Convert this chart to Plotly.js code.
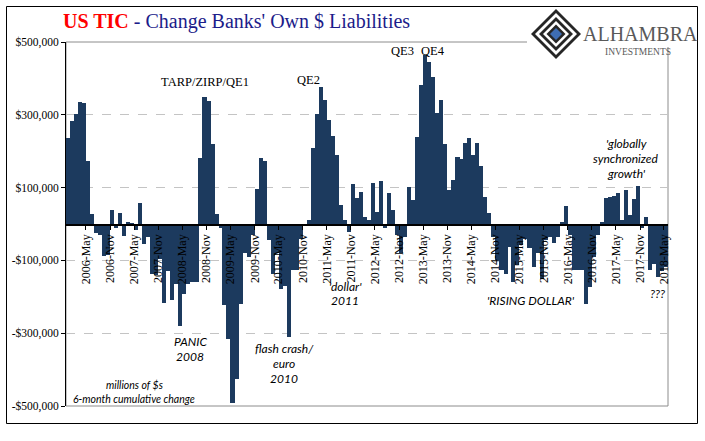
<!DOCTYPE html>
<html><head><meta charset="utf-8">
<script src="https://cdn.plot.ly/plotly-3.0.1.min.js"></script>
<style>html,body{margin:0;padding:0;background:#fff}#chart{width:705px;height:441px}</style>
</head><body><div id="chart"></div>
<script>
const months = [
'2005-12',
'2006-01','2006-02','2006-03','2006-04','2006-05','2006-06','2006-07','2006-08','2006-09','2006-10','2006-11','2006-12',
'2007-01','2007-02','2007-03','2007-04','2007-05','2007-06','2007-07','2007-08','2007-09','2007-10','2007-11','2007-12',
'2008-01','2008-02','2008-03','2008-04','2008-05','2008-06','2008-07','2008-08','2008-09','2008-10','2008-11','2008-12',
'2009-01','2009-02','2009-03','2009-04','2009-05','2009-06','2009-07','2009-08','2009-09','2009-10','2009-11','2009-12',
'2010-01','2010-02','2010-03','2010-04','2010-05','2010-06','2010-07','2010-08','2010-09','2010-10','2010-11','2010-12',
'2011-01','2011-02','2011-03','2011-04','2011-05','2011-06','2011-07','2011-08','2011-09','2011-10','2011-11','2011-12',
'2012-01','2012-02','2012-03','2012-04','2012-05','2012-06','2012-07','2012-08','2012-09','2012-10','2012-11','2012-12',
'2013-01','2013-02','2013-03','2013-04','2013-05','2013-06','2013-07','2013-08','2013-09','2013-10','2013-11','2013-12',
'2014-01','2014-02','2014-03','2014-04','2014-05','2014-06','2014-07','2014-08','2014-09','2014-10','2014-11','2014-12',
'2015-01','2015-02','2015-03','2015-04','2015-05','2015-06','2015-07','2015-08','2015-09','2015-10','2015-11','2015-12',
'2016-01','2016-02','2016-03','2016-04','2016-05','2016-06','2016-07','2016-08','2016-09','2016-10','2016-11','2016-12',
'2017-01','2017-02','2017-03','2017-04','2017-05','2017-06','2017-07','2017-08','2017-09','2017-10','2017-11','2017-12',
'2018-01','2018-02','2018-03','2018-04','2018-05'
];
// 6-month cumulative change, millions of $
const changes = [
236000,
284000,301000,335000,333000,172000,27000,-24000,-30000,-88000,-85000,38000,-12000,
30000,-33000,6000,3000,-17000,59000,-55000,-35000,-136000,-140000,-95000,-217000,
-130000,-210000,-164000,-279000,-191000,-165000,-160000,-160000,181000,350000,338000,220000,
27000,-12000,-223000,-316000,-493000,-426000,-219000,-81000,-90000,-30000,96000,181000,
172000,-44000,-136000,-80000,-178000,-170000,-311000,-127000,-127000,-40000,-5000,11000,
209000,301000,376000,342000,287000,241000,190000,52000,11000,-21000,110000,71000,
89000,20000,11000,112000,34000,117000,-12000,85000,39000,-30000,-81000,-35000,
101000,66000,239000,382000,464000,445000,405000,305000,340000,220000,94000,121000,
184000,179000,223000,236000,190000,223000,158000,75000,31000,-35000,-100000,-127000,
-136000,-63000,-160000,-113000,-58000,-40000,-67000,-118000,-81000,-150000,-44000,-35000,
-53000,-35000,6000,50000,-30000,-127000,-127000,-127000,-219000,-173000,-90000,-30000,
5000,71000,75000,77000,86000,11000,94000,25000,68000,105000,-10000,18000,
-127000,-110000,-146000,-130000,-118000
];
const tickDates = ['2006-05-01','2006-11-01','2007-05-01','2007-11-01','2008-05-01','2008-11-01',
'2009-05-01','2009-11-01','2010-05-01','2010-11-01','2011-05-01','2011-11-01','2012-05-01','2012-11-01',
'2013-05-01','2013-11-01','2014-05-01','2014-11-01','2015-05-01','2015-11-01','2016-05-01','2016-11-01',
'2017-05-01','2017-11-01','2018-05-01'];
const tickLabels = ['2006-May','2006-Nov','2007-May','2007-Nov','2008-May','2008-Nov',
'2009-May','2009-Nov','2010-May','2010-Nov','2011-May','2011-Nov','2012-May','2012-Nov',
'2013-May','2013-Nov','2014-May','2014-Nov','2015-May','2015-Nov','2016-May','2016-Nov',
'2017-May','2017-Nov','2018-May'];
const yTickValues = [500000,300000,100000,-100000,-300000,-500000];
const yTickLabels = ['$500,000','$300,000','$100,000','-$100,000','-$300,000','-$500,000'];

// layout helpers (pixel -> paper)
const L=66,R=668,T=42,B=406;
const px = x => (x-L)/(R-L);
const py = y => (B-y)/(B-T);
function diamond(cx, cy, r){
  return 'M'+px(cx)+','+py(cy-r)+' L'+px(cx+r)+','+py(cy)+' L'+px(cx)+','+py(cy+r)+' L'+px(cx-r)+','+py(cy)+' Z';
}
const serif = 'Liberation Serif, Times New Roman, serif';
const ital = 'Lato, Open Sans, sans-serif';

const trace = {
  type:'bar', x: months, y: changes,
  xperiod:'M1', xperiodalignment:'middle',
  width: 31*86400000,
  marker:{color:'#1c3a5e', line:{width:0}},
  hoverinfo:'skip'
};

function note(text, x, y, size, fam, color){
  return {text:text, x:px(x), y:py(y), xref:'paper', yref:'paper', showarrow:false,
    xanchor:'center', yanchor:'middle', font:{family:fam, size:size, color:color||'#000'}};
}

const annotations = [
  note('TARP/ZIRP/QE1', 205, 82, 12.5, serif),
  note('QE2', 308, 80, 12.5, serif),
  note('QE3', 402, 51, 12.5, serif),
  note('QE4', 433, 51, 12.5, serif),
  note('<i>PANIC</i>', 190, 341, 12, ital),
  note('<i>2008</i>', 190, 356, 12, ital),
  note('<i>flash crash/</i>', 284, 348, 12, ital),
  note('<i>euro</i>', 284, 363, 12, ital),
  note('<i>2010</i>', 284, 378, 12, ital),
  note("<i>'dollar'</i>", 345, 286, 12, ital),
  note('<i>2011</i>', 345, 300, 12, ital),
  note("<i>'RISING DOLLAR'</i>", 531, 300, 12, ital),
  note("<i>'globally</i>", 626, 143, 12, ital),
  note('<i>synchronized</i>', 626, 158, 12, ital),
  note("<i>growth'</i>", 626, 173, 12, ital),
  note('<i>???</i>', 657, 293, 12, ital),
  note('<i>millions of $s</i>', 134, 385, 10.5, ital),
  note('<i>6-month cumulative change</i>', 134, 399, 10.5, ital),
  note('ALHAMBRA', 640, 34, 20, serif, '#595959'),
  note('INVESTMENTS', 638, 52, 9.5, serif, '#595959')
];

const shapes = [
  {type:'rect', xref:'paper', yref:'paper', x0:0, x1:1, y0:0, y1:1, line:{color:'#8c8c8c', width:1}, layer:'below'},
  {type:'rect', xref:'paper', yref:'paper', x0:px(527), x1:px(696), y0:py(8), y1:py(47), fillcolor:'#fff', line:{width:0}, layer:'above'},
  {type:'rect', xref:'paper', yref:'paper', x0:px(6.5), x1:px(697.5), y0:py(6.5), y1:py(423.5), line:{color:'#000', width:1}, layer:'above'},
  {type:'path', xref:'paper', yref:'paper', path:diamond(556,34,25), fillcolor:'#262626', line:{width:0}, layer:'above'},
  {type:'path', xref:'paper', yref:'paper', path:diamond(556,34,21), fillcolor:'#fff', line:{width:0}, layer:'above'},
  {type:'path', xref:'paper', yref:'paper', path:diamond(556,34,17), fillcolor:'#262626', line:{width:0}, layer:'above'},
  {type:'path', xref:'paper', yref:'paper', path:diamond(556,34,13), fillcolor:'#fff', line:{width:0}, layer:'above'},
  {type:'path', xref:'paper', yref:'paper', path:diamond(556,34,9.5), fillcolor:'#262626', line:{width:0}, layer:'above'},
  {type:'path', xref:'paper', yref:'paper', path:diamond(556,34,6), fillcolor:'#3e6db3', line:{width:0}, layer:'above'}
];

const layout = {
  width:705, height:441,
  margin:{l:L, r:705-R, t:T, b:441-B, pad:0},
  paper_bgcolor:'#fff', plot_bgcolor:'#fff',
  showlegend:false, bargap:0,
  title:{
    text:'<span style="color:#ff0000"><b>US TIC</b></span><span style="color:#1c1c8a"> - Change Banks\' Own $ Liabilities</span>',
    xref:'container', yref:'container', x:63/705, xanchor:'left', y:1-21/441, yanchor:'middle',
    font:{family:serif, size:20}
  },
  xaxis:{
    type:'date', range:['2005-12-01','2018-06-01'],
    anchor:'free', position:0.5,
    showline:true, linecolor:'#000', linewidth:1.5,
    ticks:'outside', ticklen:4, tickcolor:'#000', tickwidth:1,
    tickmode:'array', tickvals:tickDates, ticktext:tickLabels, tickangle:-90,
    tickfont:{family:serif, size:12, color:'#000'},
    showgrid:false, zeroline:false, fixedrange:true
  },
  yaxis:{
    range:[-500000,500000],
    tickmode:'array', tickvals:yTickValues, ticktext:yTickLabels,
    showline:true, linecolor:'#000', linewidth:1,
    ticks:'outside', ticklen:4, tickcolor:'#000',
    showgrid:true, gridcolor:'#c4c4c4', griddash:'dash', gridwidth:1,
    zeroline:false,
    tickfont:{family:serif, size:11.5, color:'#000'}, fixedrange:true
  },
  annotations:annotations,
  shapes:shapes
};

Plotly.newPlot('chart', [trace], layout, {staticPlot:true, displayModeBar:false});
</script>
</body></html>
